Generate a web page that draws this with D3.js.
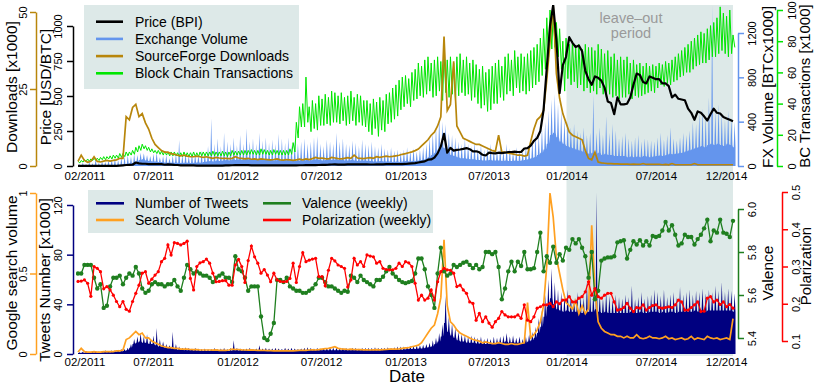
<!DOCTYPE html>
<html>
<head>
<meta charset="utf-8">
<script src="https://cdn.jsdelivr.net/npm/d3@7"></script>
<style>
  body { margin: 0; background: #fff; }
  svg { display: block; font-family: "Liberation Sans", Arial, Helvetica, sans-serif; }
</style>
</head>
<body>
<svg id="chart" width="814" height="385"></svg>
<script>
// weekly values, first week starts 2011-02-01
const weekStart = new Date(2011, 1, 1);
const dataEnd = new Date(2014, 11, 30);
const leaveOutStart = new Date(2014, 0, 1);

// Price (BPI) USD/BTC
const price = [
  0.7, 0.9, 1.0, 0.9, 0.9, 0.9, 0.85, 0.8, 0.8, 0.7,
  0.9, 1.2, 1.5, 3, 5, 7, 8, 9, 25, 19,
  16, 16, 14, 14, 13.5, 14, 13, 9, 11, 10,
  8, 7, 5, 5.5, 5, 5, 4, 3, 3, 3.3,
  3, 2.5, 2.5, 3, 3, 3.2, 3.9, 4.5, 5.5, 6.8,
  6.5, 6, 5.8, 5.7, 4.5, 4.8, 4.9, 5, 5.3, 4.7,
  4.9, 4.9, 4.9, 5, 5.1, 5, 5, 5.1, 5.1, 5.2,
  5.4, 5.7, 6.3, 6.6, 6.7, 7.2, 8.5, 8.7, 9.2, 10.8,
  12, 10, 10.5, 10.5, 11, 12, 12.3, 12.5, 12, 11.8,
  11.2, 10.8, 10.8, 11, 11.7, 12.3, 13, 13.4, 13.3, 13.4,
  13.5, 13.6, 14.5, 17, 19, 21, 25, 29, 33, 45,
  47, 60, 90, 140, 230, 95, 130, 110, 115, 118,
  122, 128, 120, 105, 105, 98, 80, 75, 95, 92,
  90, 95, 92, 95, 100, 100, 102, 100, 100, 125,
  128, 145, 180, 200, 250, 400, 700, 1000, 1150, 900,
  520, 720, 780, 920, 880, 850, 860, 820, 680, 620,
  580, 640, 630, 610, 560, 460, 450, 370, 490, 440,
  440, 445, 490, 580, 660, 650, 600, 590, 640, 630,
  620, 620, 590, 590, 570, 490, 510, 480, 475, 470,
  410, 380, 330, 390, 380, 355, 325, 370, 410, 380,
  375, 350, 340, 330, 320
];

// Exchange volume [BTC x1000]: weekly peak and weekly base
const fxHigh = [
  15, 30, 20, 40, 25, 60, 30, 45, 35, 50,
  60, 70, 55, 80, 90, 100, 85, 110, 100, 120,
  115, 100, 90, 110, 125, 80, 90, 100, 70, 95,
  110, 235, 100, 120, 90, 130, 110, 100, 140, 120,
  180, 430, 200, 250, 180, 300, 220, 200, 260, 190,
  280, 200, 340, 220, 250, 200, 300, 230, 260, 210,
  240, 200, 290, 250, 210, 260, 190, 230, 200, 220,
  250, 200, 220, 260, 270, 200, 180, 240, 220, 200,
  300, 220, 250, 200, 190, 230, 210, 180, 240, 200,
  190, 220, 180, 170, 200, 160, 150, 170, 140, 150,
  130, 150, 170, 140, 160, 130, 150, 170, 200, 260,
  300, 350, 440, 400, 380, 300, 280, 260, 220, 200,
  250, 200, 180, 220, 160, 190, 150, 170, 200, 160,
  150, 180, 140, 200, 160, 130, 170, 150, 140, 180,
  200, 250, 300, 280, 350, 400, 500, 600, 650, 560,
  500, 420, 400, 350, 380, 320, 300, 350, 280, 300,
  640, 300, 350, 280, 450, 300, 380, 320, 250, 270,
  300, 250, 230, 260, 280, 220, 250, 240, 230, 220,
  260, 300, 240, 280, 350, 250, 230, 260, 300, 280,
  320, 400, 380, 480, 520, 450, 620, 1450, 500, 560,
  480, 420, 500, 440, 400
];
const fxLow = [
  2, 4, 3, 5, 4, 6, 5, 6, 6, 8,
  8, 10, 10, 12, 14, 20, 25, 30, 40, 55,
  60, 50, 45, 40, 40, 35, 35, 30, 30, 30,
  30, 30, 28, 30, 30, 28, 30, 32, 30, 35,
  40, 45, 40, 50, 45, 50, 55, 50, 60, 55,
  60, 55, 65, 60, 60, 55, 60, 55, 60, 55,
  55, 50, 55, 50, 50, 55, 50, 50, 45, 50,
  50, 55, 50, 55, 60, 55, 50, 55, 60, 55,
  60, 55, 55, 50, 50, 55, 50, 45, 50, 50,
  45, 45, 40, 40, 45, 40, 40, 40, 35, 40,
  35, 40, 45, 40, 45, 45, 50, 55, 60, 80,
  100, 120, 150, 170, 160, 130, 100, 90, 80, 70,
  70, 65, 60, 60, 55, 55, 50, 50, 55, 50,
  50, 50, 45, 50, 45, 45, 50, 45, 50, 55,
  60, 70, 80, 100, 120, 150, 200, 280, 300, 260,
  220, 200, 180, 170, 160, 150, 140, 130, 120, 110,
  120, 110, 120, 100, 110, 100, 100, 90, 90, 90,
  90, 80, 85, 80, 85, 80, 90, 85, 80, 85,
  90, 95, 90, 100, 110, 105, 110, 115, 120, 130,
  140, 150, 160, 170, 180, 170, 190, 200, 190, 200,
  190, 180, 200, 190, 170
];

// SourceForge downloads [x1000]
const downloads = [
  1.5, 3.5, 1.8, 1.2, 1.5, 3, 1.5, 1.3, 1.6, 1.8,
  1.6, 1.8, 2, 2.5, 2.5, 16, 15, 19, 20, 16,
  17, 14, 12, 9, 7, 6, 5, 4.5, 4.5, 4,
  3.8, 3.5, 3.3, 3.5, 3.2, 3, 3, 3.2, 3, 2.8,
  3, 2.7, 2.5, 2.8, 2.6, 2.5, 2.5, 2.4, 2.5, 3,
  2.6, 2.5, 2.3, 2.5, 2.2, 2.3, 2.1, 2.3, 2.2, 2.1,
  2, 2.1, 2.3, 2, 1.9, 2.1, 2, 1.8, 2, 2.2,
  2, 2.3, 2.1, 2.4, 2.8, 2.5, 2.6, 2.4, 2.3, 2.8,
  2.6, 2.4, 2.3, 2.5, 2.7, 2.5, 3.5, 2.6, 2.5, 2.4,
  2.6, 2.7, 2.5, 3, 2.8, 3, 3.2, 3, 3.1, 3.3,
  3.5, 3.8, 4, 4.3, 4.6, 5, 5.5, 6.5, 7.5, 8.5,
  10, 11, 13, 16, 42, 18, 20, 34, 13, 11,
  9, 8.5, 8, 7.5, 7, 7, 6.5, 6, 5.5, 5,
  4.8, 10, 4.5, 4.5, 4.2, 4, 3.8, 3.5, 3.5, 3.2,
  3.5, 8, 12, 15, 16, 18, 28, 40, 52, 30,
  22, 17, 14, 11, 10, 9.5, 9, 8.5, 5, 2.5,
  2, 4.5, 1.3, 1, 0.9, 0.8, 0.8, 0.7, 0.7, 0.6,
  0.6, 0.6, 0.5, 0.6, 0.5, 0.5, 0.8, 0.5, 0.5, 0.5,
  0.5, 0.5, 0.4, 0.5, 0.4, 0.8, 0.4, 0.4, 0.4, 0.4,
  0.4, 0.4, 0.8, 0.4, 0.4, 0.4, 0.4, 0.4, 0.4, 0.4,
  0.4, 0.4, 0.4, 0.4, 0.4
];

// Block chain transactions [x1000]: weekday high, weekend low
const bcHigh = [
  3, 3.5, 4, 4.5, 4.5, 5, 5, 5.5, 6, 6,
  6.5, 7, 7, 8, 8, 9, 9, 10, 12, 13,
  14, 13, 12, 11, 10, 10, 9.5, 9.5, 9, 9,
  9, 8.5, 8.5, 9, 8.5, 8.5, 9, 8.5, 9, 9,
  9, 9, 9.5, 9, 9, 9.5, 9, 9, 10, 9.5,
  9.5, 10, 10, 10, 10.5, 10, 10, 11, 10.5, 10,
  10, 10.5, 10, 10, 10, 10, 11, 15, 28, 38,
  40, 57, 38, 42, 40, 45, 43, 46, 44, 48,
  47, 45, 47, 44, 45, 48, 44, 46, 45, 42,
  42, 40, 43, 41, 44, 42, 46, 47, 50, 52,
  55, 57, 58, 56, 60, 62, 66, 64, 68, 70,
  66, 68, 70, 67, 72, 68, 70, 66, 70, 72,
  68, 70, 66, 68, 65, 62, 64, 60, 62, 64,
  66, 68, 64, 70, 72, 68, 74, 70, 72, 70,
  72, 74, 76, 78, 82, 88, 95, 100, 98, 92,
  88, 80, 82, 78, 80, 76, 78, 75, 78, 76,
  76, 74, 78, 75, 72, 74, 70, 72, 68, 70,
  68, 70, 66, 68, 65, 66, 64, 66, 64, 65,
  64, 66, 65, 67, 66, 68, 70, 72, 74, 76,
  78, 80, 82, 84, 86, 85, 88, 90, 92, 95,
  102, 98, 96, 100, 84
];
const bcLow = [
  2, 2.5, 3, 3, 3.5, 3.5, 3.5, 4, 4, 4.5,
  4.5, 5, 5, 5.5, 6, 6.5, 7, 7.5, 9, 10,
  11, 10, 9, 8.5, 8, 7.5, 7, 7, 6.5, 6.5,
  6.5, 6, 6, 6, 6, 6, 6, 6, 6.5, 6.5,
  6.5, 6.5, 6.5, 6.5, 6.5, 6.5, 6, 6.5, 7, 7,
  7, 7, 7, 7.5, 7.5, 7, 7, 7.5, 7.5, 7,
  7, 7.5, 7, 7, 7, 7, 7.5, 9, 18, 25,
  25, 28, 22, 24, 23, 26, 26, 27, 26, 28,
  28, 27, 29, 26, 27, 29, 26, 28, 26, 25,
  22, 20, 24, 19, 23, 22, 27, 28, 30, 32,
  36, 38, 40, 38, 42, 43, 45, 44, 46, 48,
  44, 45, 48, 42, 47, 44, 46, 42, 45, 47,
  45, 46, 42, 44, 40, 37, 39, 35, 36, 40,
  40, 44, 42, 46, 48, 45, 50, 47, 48, 46,
  48, 50, 52, 54, 58, 62, 70, 75, 76, 70,
  62, 48, 56, 52, 54, 50, 52, 48, 50, 47,
  48, 46, 50, 46, 44, 46, 44, 45, 43, 44,
  44, 46, 43, 45, 44, 45, 46, 47, 48, 47,
  50, 52, 51, 53, 52, 54, 55, 57, 58, 60,
  60, 62, 64, 65, 66, 66, 68, 70, 70, 72,
  74, 72, 70, 72, 76
];

// Number of tweets [x1000]: weekly peak and weekly base
const tweetsHigh = [
  1.5, 1.8, 2, 1.5, 2, 2.5, 2, 2.5, 3, 2.5,
  3, 3, 3.5, 4, 4, 5, 8, 12, 14, 17,
  14, 16, 12, 15, 21, 12, 10, 8, 7, 18,
  8, 6, 5, 5.5, 5, 4.5, 5, 4.5, 4, 4.5,
  4, 4, 5, 4, 4.5, 5, 4, 5, 11, 5,
  4.5, 4, 4.5, 5, 4, 4.5, 7, 4.5, 5, 4.5,
  4.5, 5, 4.5, 4, 5, 4.5, 5, 4.5, 4, 4.5,
  5, 5.5, 5, 4.5, 5, 4.5, 5, 5, 5.5, 5,
  5, 4.5, 5, 5, 4.5, 5, 5, 4.5, 5, 5,
  5, 5, 5.5, 5, 5, 5, 5.5, 5, 5.5, 6,
  6, 6, 6, 6.5, 6.5, 7, 7, 7.5, 8, 9,
  11, 13, 17, 24, 47, 30, 25, 21, 18, 16,
  15, 14, 15, 14, 13, 14, 12, 13, 12, 14,
  13, 14, 15, 17, 14, 15, 13, 14, 12, 14,
  16, 18, 22, 29, 35, 48, 60, 69, 58, 52,
  50, 48, 52, 47, 45, 50, 48, 46, 58, 50,
  52, 130, 48, 45, 50, 47, 44, 48, 46, 45,
  48, 46, 55, 44, 46, 50, 45, 47, 48, 52,
  50, 47, 52, 46, 48, 50, 46, 54, 48, 50,
  52, 48, 51, 50, 53, 49, 52, 50, 55, 51,
  58, 50, 53, 51, 49
];
const tweetsLow = [
  0.8, 1, 1, 1, 1.2, 1.2, 1.3, 1.3, 1.5, 1.5,
  1.5, 1.8, 2, 2, 2.5, 3, 5, 8, 9, 10,
  9, 9, 8, 8, 7, 6, 6, 5, 5, 4.5,
  4, 3.5, 3.5, 3, 3, 3, 2.8, 2.8, 2.5, 2.5,
  2.5, 2.5, 2.5, 2.5, 2.5, 2.5, 2.5, 2.5, 3, 3,
  2.8, 2.8, 2.8, 3, 3, 3, 3, 3, 3, 3,
  3, 3, 3, 3, 3, 3, 3, 3, 3, 3,
  3, 3, 3, 3, 3, 3, 3, 3, 3, 3,
  3, 3, 3, 3, 3, 3, 3, 3, 3, 3,
  3, 3, 3, 3, 3, 3.2, 3.2, 3.2, 3.5, 3.5,
  3.5, 3.5, 3.8, 4, 4, 4, 4.5, 4.5, 5, 5.5,
  6, 8, 10, 14, 25, 18, 15, 13, 11, 10,
  10, 9, 9, 9, 8.5, 8.5, 8, 8, 8, 8,
  8.5, 9, 9, 10, 9, 9.5, 9, 9, 8.5, 9,
  10, 11, 13, 17, 22, 30, 38, 45, 40, 36,
  35, 34, 35, 34, 34, 34, 33, 33, 34, 34,
  34, 36, 34, 33, 34, 33, 33, 33, 33, 33,
  33, 33, 34, 33, 33, 34, 33, 33, 34, 34,
  34, 33, 34, 33, 34, 34, 33, 34, 34, 34,
  34, 34, 35, 34, 35, 34, 35, 35, 35, 35,
  35, 35, 35, 35, 34
];

// Google search volume (0..1)
const searchVolume = [
  0.012, 0.035, 0.015, 0.012, 0.012, 0.015, 0.012, 0.012, 0.015, 0.015,
  0.015, 0.015, 0.02, 0.02, 0.025, 0.09, 0.1, 0.12, 0.14, 0.12,
  0.13, 0.1, 0.1, 0.08, 0.07, 0.06, 0.05, 0.045, 0.04, 0.04,
  0.035, 0.035, 0.03, 0.03, 0.03, 0.028, 0.027, 0.027, 0.025, 0.025,
  0.025, 0.025, 0.024, 0.025, 0.022, 0.022, 0.023, 0.025, 0.03, 0.028,
  0.028, 0.026, 0.025, 0.024, 0.025, 0.024, 0.023, 0.022, 0.022, 0.021,
  0.021, 0.02, 0.021, 0.02, 0.02, 0.021, 0.02, 0.02, 0.021, 0.022,
  0.022, 0.023, 0.025, 0.026, 0.025, 0.027, 0.03, 0.033, 0.035, 0.04,
  0.045, 0.035, 0.032, 0.03, 0.028, 0.03, 0.028, 0.027, 0.027, 0.026,
  0.026, 0.025, 0.026, 0.027, 0.026, 0.027, 0.028, 0.03, 0.03, 0.03,
  0.032, 0.035, 0.038, 0.04, 0.045, 0.05, 0.055, 0.07, 0.1, 0.13,
  0.16, 0.18, 0.25, 0.35, 0.71, 0.3, 0.2, 0.18, 0.15, 0.13,
  0.12, 0.11, 0.1, 0.09, 0.085, 0.08, 0.07, 0.075, 0.07, 0.065,
  0.065, 0.07, 0.065, 0.06, 0.06, 0.065, 0.06, 0.06, 0.065, 0.07,
  0.32, 0.1, 0.12, 0.15, 0.2, 0.3, 0.55, 1.0, 0.85, 0.6,
  0.5, 0.4, 0.32, 0.3, 0.28, 0.33, 0.25, 0.3, 0.25, 0.28,
  0.8, 0.4, 0.2, 0.16, 0.14, 0.13, 0.12, 0.12, 0.11, 0.11,
  0.1, 0.11, 0.1, 0.1, 0.12, 0.1, 0.095, 0.1, 0.11, 0.1,
  0.1, 0.095, 0.1, 0.11, 0.095, 0.1, 0.09, 0.095, 0.1, 0.09,
  0.095, 0.11, 0.09, 0.1, 0.095, 0.09, 0.11, 0.1, 0.095, 0.1,
  0.09, 0.095, 0.1, 0.09, 0.22
];

// weekly valence
const valence = [
  5.70, 5.70, 5.74, 5.74, 5.74, 5.68, 5.63, 5.65, 5.54, 5.55,
  5.64, 5.68, 5.68, 5.69, 5.65, 5.68, 5.70, 5.69, 5.73, 5.70,
  5.63, 5.61, 5.62, 5.65, 5.66, 5.65, 5.65, 5.64, 5.65, 5.65,
  5.67, 5.64, 5.62, 5.68, 5.74, 5.72, 5.70, 5.71, 5.70, 5.69,
  5.69, 5.68, 5.66, 5.68, 5.69, 5.70, 5.68, 5.68, 5.66, 5.78,
  5.72, 5.71, 5.68, 5.62, 5.64, 5.64, 5.64, 5.50, 5.40, 5.39,
  5.42, 5.47, 5.67, 5.67, 5.66, 5.68, 5.64, 5.63, 5.62, 5.62,
  5.61, 5.61, 5.62, 5.63, 5.65, 5.68, 5.68, 5.66, 5.64, 5.64,
  5.63, 5.62, 5.61, 5.62, 5.615, 5.69, 5.68, 5.66, 5.69, 5.67,
  5.66, 5.65, 5.64, 5.67, 5.67, 5.685, 5.71, 5.73, 5.70, 5.685,
  5.67, 5.66, 5.655, 5.66, 5.665, 5.70, 5.77, 5.77, 5.72, 5.64,
  5.60, 5.54, 5.70, 5.82, 5.71, 5.69, 5.70, 5.74, 5.73, 5.74,
  5.75, 5.755, 5.74, 5.725, 5.74, 5.72, 5.73, 5.80, 5.80, 5.79,
  5.80, 5.73, 5.58, 5.63, 5.71, 5.755, 5.71, 5.755, 5.735, 5.80,
  5.72, 5.72, 5.725, 5.80, 5.89, 5.71, 5.78, 5.75, 5.825, 5.75,
  5.79, 5.76, 5.82, 5.81, 5.86, 5.84, 5.86, 5.82, 5.78, 5.68,
  5.80, 5.58, 5.62, 5.76, 5.77, 5.775, 5.775, 5.78, 5.845, 5.85,
  5.855, 5.77, 5.81, 5.85, 5.835, 5.855, 5.83, 5.85, 5.83, 5.875,
  5.87, 5.875, 5.90, 5.94, 5.90, 5.925, 5.88, 5.83, 5.84, 5.88,
  5.87, 5.87, 5.835, 5.86, 5.88, 5.91, 5.95, 5.85, 5.90, 5.89,
  5.95, 5.89, 5.885, 5.87, 5.945
];

// weekly polarization
const polarization = [
  0.26, 0.261, 0.264, 0.255, 0.22, 0.30, 0.295, 0.286, 0.24, 0.246,
  0.237, 0.223, 0.206, 0.192, 0.206, 0.185, 0.18, 0.206, 0.228, 0.25,
  0.282, 0.286, 0.255, 0.266, 0.277, 0.286, 0.313, 0.322, 0.358, 0.331,
  0.364, 0.362, 0.358, 0.362, 0.368, 0.268, 0.237, 0.30, 0.31, 0.313,
  0.32, 0.309, 0.282, 0.259, 0.26, 0.262, 0.262, 0.25, 0.25, 0.304,
  0.319, 0.30, 0.257, 0.316, 0.355, 0.326, 0.309, 0.282, 0.292, 0.277,
  0.259, 0.282, 0.264, 0.26, 0.259, 0.26, 0.268, 0.309, 0.257, 0.30,
  0.337, 0.313, 0.317, 0.32, 0.322, 0.273, 0.273, 0.248, 0.29, 0.322,
  0.315, 0.304, 0.30, 0.295, 0.245, 0.264, 0.322, 0.304, 0.313, 0.30,
  0.331, 0.328, 0.326, 0.309, 0.313, 0.295, 0.292, 0.291, 0.291, 0.295,
  0.309, 0.30, 0.313, 0.31, 0.30, 0.255, 0.21, 0.223, 0.21, 0.215,
  0.237, 0.21, 0.259, 0.286, 0.295, 0.291, 0.29, 0.282, 0.246, 0.25,
  0.237, 0.228, 0.205, 0.201, 0.156, 0.174, 0.152, 0.165, 0.148, 0.137,
  0.152, 0.161, 0.179, 0.17, 0.165, 0.165, 0.165, 0.17, 0.161, 0.197,
  0.156, 0.152, 0.165, 0.188, 0.192, 0.197, 0.197, 0.201, 0.192, 0.205,
  0.20, 0.21, 0.21, 0.219, 0.205, 0.205, 0.215, 0.219, 0.232, 0.259,
  0.223, 0.241, 0.219, 0.215, 0.223, 0.228, 0.228, 0.205, 0.183, 0.185,
  0.19, 0.201, 0.188, 0.179, 0.19, 0.188, 0.197, 0.183, 0.19, 0.195,
  0.197, 0.19, 0.188, 0.19, 0.192, 0.19, 0.197, 0.21, 0.205, 0.183,
  0.183, 0.19, 0.197, 0.205, 0.179, 0.18, 0.215, 0.219, 0.205, 0.21,
  0.198, 0.205, 0.192, 0.198, 0.188
];

const xTickDates = ["2011-02-15", "2011-07-15", "2012-01-15", "2012-07-15", "2013-01-15",
                    "2013-07-15", "2014-01-01", "2014-07-15", "2014-12-15"];
const xTickLabels = ["02/2011", "07/2011", "01/2012", "07/2012", "01/2013",
                     "07/2013", "01/2014", "07/2014", "12/2014"];

const topLegend = ["Price (BPI)", "Exchange Volume", "SourceForge Downloads", "Block Chain Transactions"];
const bottomLegend = ["Number of Tweets", "Search Volume", "Valence (weekly)", "Polarization (weekly)"];

const col = {
  price: "#000000", fx: "#6495ed", dl: "#b8860b", bc: "#00e600",
  tweets: "#000080", search: "#ffa020", val: "#1f7f1f", pol: "#ff0000",
  shade: "#dde9e8"
};

const svg = d3.select("#chart");
const parse = d3.timeParse("%Y-%m-%d");
const weeks = price.map((d, i) => d3.timeDay.offset(weekStart, 7 * i));

const x = d3.scaleTime().domain([weekStart, dataEnd]).range([78, 733]);

// top panel scales
const yPrice = d3.scaleLinear().domain([0, 1000]).range([166, 26]);
const yFx = d3.scaleLinear().domain([0, 1200]).range([166, 33]);
const yDl = d3.scaleLinear().domain([0, 50]).range([166, 12]);
const yBc = d3.scaleLinear().domain([0, 100]).range([166, 10]);
// bottom panel scales
const yTw = d3.scaleLinear().domain([0, 120]).range([354, 205]);
const ySv = d3.scaleLinear().domain([0, 1]).range([354, 193]);
const yVal = d3.scaleLinear().domain([5.4, 6.0]).range([338, 209]);
const yPol = d3.scaleLinear().domain([0.1, 0.5]).range([341, 192]);

// leave-out shading spans both panels
svg.append("rect")
  .attr("x", x(leaveOutStart)).attr("y", 5)
  .attr("width", 733 - x(leaveOutStart)).attr("height", 351)
  .attr("fill", col.shade);

const defs = svg.append("defs");
defs.append("clipPath").attr("id", "clipTop").append("rect")
  .attr("x", 76).attr("y", 5).attr("width", 660).attr("height", 162);
defs.append("clipPath").attr("id", "clipBot").append("rect")
  .attr("x", 76).attr("y", 188).attr("width", 660).attr("height", 167);

// weekly peak drawn as a narrow spike above the weekly base
function spikes(hi, lo) {
  const pts = [];
  weeks.forEach((d, i) => {
    pts.push([d, lo[i]]);
    pts.push([d3.timeHour.offset(d, 36), lo[i]]);
    pts.push([d3.timeHour.offset(d, 84), hi[i]]);
    pts.push([d3.timeHour.offset(d, 132), lo[i]]);
  });
  return pts;
}
function zigzag(hi, lo) {
  const pts = [];
  weeks.forEach((d, i) => {
    pts.push([d, hi[i]]);
    pts.push([d3.timeHour.offset(d, 96), lo[i]]);
  });
  return pts;
}

// ---- top panel ----
const topPanel = svg.append("g").attr("clip-path", "url(#clipTop)");

topPanel.append("path")
  .datum(spikes(fxHigh, fxLow))
  .attr("fill", col.fx)
  .attr("d", d3.area().x(d => x(d[0])).y0(yFx(0)).y1(d => yFx(d[1])));

topPanel.append("path")
  .datum(zigzag(bcHigh, bcLow))
  .attr("fill", "none").attr("stroke", col.bc).attr("stroke-width", 1)
  .attr("d", d3.line().x(d => x(d[0])).y(d => yBc(d[1])));

topPanel.append("path")
  .datum(downloads)
  .attr("fill", "none").attr("stroke", col.dl).attr("stroke-width", 1.7)
  .attr("d", d3.line().x((d, i) => x(weeks[i])).y(d => yDl(d)));

topPanel.append("path")
  .datum(price)
  .attr("fill", "none").attr("stroke", col.price).attr("stroke-width", 2.2)
  .attr("stroke-linejoin", "round")
  .attr("d", d3.line().x((d, i) => x(weeks[i])).y(d => yPrice(d)));

// ---- bottom panel ----
const botPanel = svg.append("g").attr("clip-path", "url(#clipBot)");

botPanel.append("path")
  .datum(spikes(tweetsHigh, tweetsLow))
  .attr("fill", col.tweets)
  .attr("d", d3.area().x(d => x(d[0])).y0(yTw(0)).y1(d => yTw(d[1])));

botPanel.append("path")
  .datum(searchVolume)
  .attr("fill", "none").attr("stroke", col.search).attr("stroke-width", 1.7)
  .attr("d", d3.line().x((d, i) => x(weeks[i])).y(d => ySv(d)));

botPanel.append("path")
  .datum(valence)
  .attr("fill", "none").attr("stroke", col.val).attr("stroke-width", 1.3)
  .attr("d", d3.line().x((d, i) => x(weeks[i])).y(d => yVal(d)));
botPanel.selectAll(".valDot").data(valence).join("circle")
  .attr("class", "valDot")
  .attr("cx", (d, i) => x(weeks[i])).attr("cy", d => yVal(d))
  .attr("r", 2.2).attr("fill", col.val);

botPanel.append("path")
  .datum(polarization)
  .attr("fill", "none").attr("stroke", col.pol).attr("stroke-width", 1.3)
  .attr("d", d3.line().x((d, i) => x(weeks[i])).y(d => yPol(d)));
botPanel.selectAll(".polDot").data(polarization).join("circle")
  .attr("class", "polDot")
  .attr("cx", (d, i) => x(weeks[i])).attr("cy", d => yPol(d))
  .attr("r", 1.6).attr("fill", col.pol);

// ---- axes ----
function yAxis(scale, xPos, side, ticks, fmt, color, labelY) {
  const axis = (side === "left" ? d3.axisLeft(scale) : d3.axisRight(scale))
    .tickValues(ticks).tickFormat(fmt).tickSize(6).tickSizeOuter(0);
  const g = svg.append("g").attr("transform", `translate(${xPos},0)`).call(axis)
    .attr("font-family", null).attr("font-size", 11);
  g.select(".domain").attr("stroke", color).attr("stroke-width", 1.5);
  g.selectAll(".tick line").attr("stroke", color).attr("stroke-width", 1.5);
  g.selectAll(".tick text")
    .attr("transform", "rotate(-90)")
    .attr("x", 0).attr("y", labelY).attr("dy", null)
    .attr("text-anchor", "middle").attr("fill", "#000");
  return g;
}

yAxis(yDl, 36, "left", [0, 25, 50], d3.format("d"), col.dl, -9);
yAxis(yPrice, 73, "left", [0, 250, 500, 750, 1000], d3.format("d"), "#000", -11);
yAxis(yFx, 738, "right", [0, 400, 800, 1200], d3.format("d"), col.fx, 18);
yAxis(yBc, 777, "right", [0, 20, 40, 60, 80, 100], d3.format("d"), col.bc, 19);

yAxis(ySv, 36, "left", [0, 0.5, 1], d => String(d), col.search, -9);
yAxis(yTw, 73, "left", [0, 40, 80, 120], d3.format("d"), col.tweets, -11);
yAxis(yVal, 738, "right", [5.4, 5.6, 5.8, 6.0], d3.format(".1f"), col.val, 18);
yAxis(yPol, 782, "right", [0.1, 0.2, 0.3, 0.4, 0.5], d3.format(".1f"), col.pol, 18);

function xAxis(yPos) {
  const g = svg.append("g").attr("transform", `translate(0,${yPos})`)
    .call(d3.axisBottom(x).tickValues(xTickDates.map(parse))
      .tickFormat((d, i) => xTickLabels[i]).tickSize(0))
    .attr("font-family", null).attr("font-size", 11.5);
  g.select(".domain").remove();
  g.selectAll(".tick text").attr("fill", "#000");
}
xAxis(169);
xAxis(355);

// axis titles
function vTitle(text, cx, cy, size) {
  svg.append("text")
    .attr("transform", `translate(${cx},${cy}) rotate(-90)`)
    .attr("text-anchor", "middle").attr("dy", "0.35em")
    .attr("font-size", size).attr("fill", "#000")
    .text(text);
}
vTitle("Downloads [x1000]", 12, 87, 15.5);
vTitle("Price [USD/BTC]", 46, 87, 15.5);
vTitle("FX Volume [BTCx1000]", 768, 87, 15.5);
vTitle("BC Transactions [x1000]", 805, 86, 15);
vTitle("Google search volume", 12, 273, 15.5);
vTitle("Tweets Number [x1000]", 45, 280, 15.5);
vTitle("Valence", 768, 273, 15.5);
vTitle("Polarization", 805.5, 266, 15);

svg.append("text").attr("x", 407).attr("y", 382)
  .attr("text-anchor", "middle").attr("font-size", 17).attr("fill", "#000")
  .text("Date");

// leave-out label
const leaveText = svg.append("text").attr("text-anchor", "middle")
  .attr("font-size", 14.5).attr("fill", "#9a9a9a");
leaveText.append("tspan").attr("x", 631).attr("y", 23).text("leave\u2013out");
leaveText.append("tspan").attr("x", 631).attr("y", 37.5).text("period");

// legends
const topColors = [col.price, col.fx, col.dl, col.bc];
svg.append("rect").attr("x", 84).attr("y", 5).attr("width", 215).attr("height", 84)
  .attr("fill", col.shade);
topLegend.forEach((t, i) => {
  const yy = 21.7 + i * 17.2;
  svg.append("line").attr("x1", 96).attr("x2", 123).attr("y1", yy).attr("y2", yy)
    .attr("stroke", topColors[i]).attr("stroke-width", 2.6);
  svg.append("text").attr("x", 135).attr("y", yy).attr("dy", "0.35em")
    .attr("font-size", 14).attr("fill", "#000").text(t);
});

const botColors = [col.tweets, col.search, col.val, col.pol];
svg.append("rect").attr("x", 88).attr("y", 190).attr("width", 345).attr("height", 43)
  .attr("fill", col.shade);
bottomLegend.forEach((t, i) => {
  const yy = 203.3 + (i % 2) * 16.7;
  const lx = i < 2 ? 96 : 263;
  svg.append("line").attr("x1", lx).attr("x2", lx + 28).attr("y1", yy).attr("y2", yy)
    .attr("stroke", botColors[i]).attr("stroke-width", 2.6);
  svg.append("text").attr("x", lx + 39).attr("y", yy).attr("dy", "0.35em")
    .attr("font-size", 14).attr("fill", "#000").text(t);
});
</script>
</body>
</html>
